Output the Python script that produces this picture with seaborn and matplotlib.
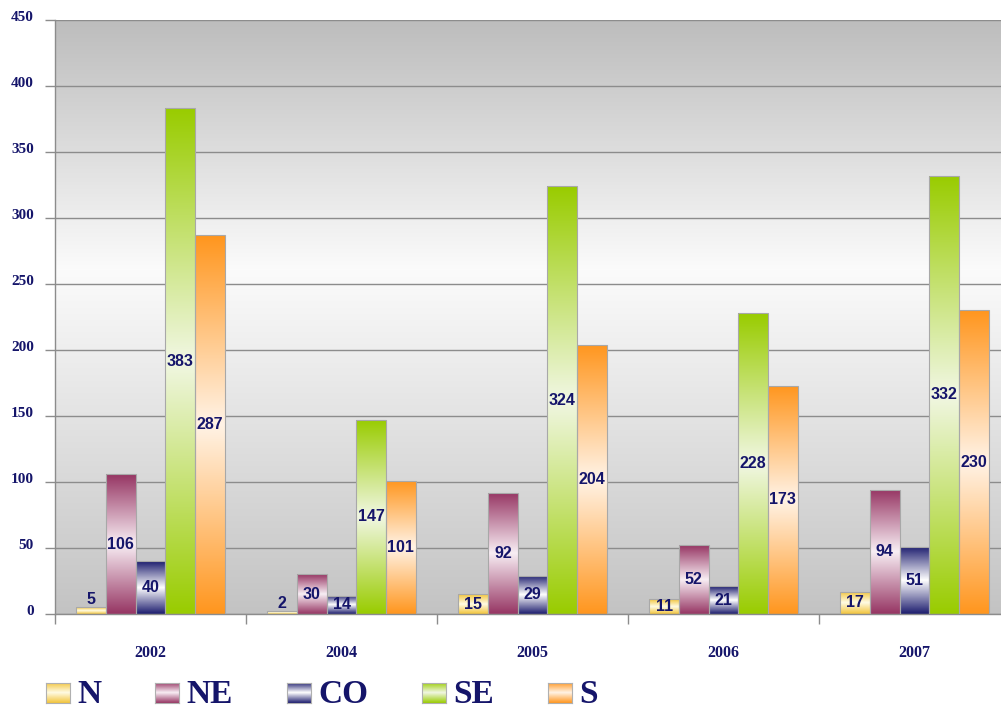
import numpy as np
import pandas as pd
import matplotlib
matplotlib.use("Agg")
import matplotlib.pyplot as plt
from matplotlib.colors import to_rgb
from matplotlib.transforms import ScaledTranslation
import seaborn as sns

# ---- data -------------------------------------------------------------
years = ["2002", "2004", "2005", "2006", "2007"]
regions = ["N", "NE", "CO", "SE", "S"]
n_vals = [5, 2, 15, 11, 17]
ne_vals = [106, 30, 92, 52, 94]
co_vals = [40, 14, 29, 21, 51]
se_vals = [383, 147, 324, 228, 332]
s_vals = [287, 101, 204, 173, 230]
y_ticks = [0, 50, 100, 150, 200, 250, 300, 350, 400, 450]

series = {"N": n_vals, "NE": ne_vals, "CO": co_vals, "SE": se_vals, "S": s_vals}
df = pd.DataFrame(
    [(y, r, series[r][i]) for r in regions for i, y in enumerate(years)],
    columns=["year", "region", "value"],
)

# gradient colours per region: (outer, centre)
grad_cols = {
    "N": ("#f2c43a", "#fffbe4"),
    "NE": ("#963563", "#f8eef4"),
    "CO": ("#1c1c6e", "#ffffff"),
    "SE": ("#99cc00", "#f1f7e3"),
    "S": ("#ff961e", "#fff3e6"),
}
navy = "#15156a"
axis_gray = "#8c8c8c"


def vgrad(outer, centre, n=256, mid=0.5):
    """Column gradient: outer -> centre -> outer (top to bottom)."""
    o = np.array(to_rgb(outer))
    c = np.array(to_rgb(centre))
    t = np.linspace(0, 1, n)
    w = np.where(t < mid, t / mid, (1 - t) / (1 - mid))
    arr = o[None, :] * (1 - w[:, None]) + c[None, :] * w[:, None]
    return arr[:, None, :]


sns.set_style("white")
plt.rcParams["font.family"] = ["Liberation Serif", "DejaVu Serif"]

fig = plt.figure(figsize=(10.01, 7.10), dpi=100)
W, H = 1001, 710
ax = fig.add_axes([55 / W, (H - 614) / H, 955 / W, 594 / H])

# background gradient of the plot area
bg_stops = np.array([0.0, 0.42, 1.0])
bg_vals = np.array([0.74, 0.985, 0.765])
tt = np.linspace(0, 1, 256)
g = np.interp(tt, bg_stops, bg_vals)
bg = np.repeat(g[:, None, None], 3, axis=2)
ax.imshow(bg, extent=[0, 1, 0, 1], transform=ax.transAxes, aspect="auto",
          zorder=-2, origin="upper")

sns.barplot(
    data=df, x="year", y="value", hue="region", order=years, hue_order=regions,
    palette=[grad_cols[r][0] for r in regions], width=0.775, errorbar=None,
    legend=False, ax=ax, edgecolor="#a8a8a8", linewidth=0.8,
)

# gradient fills and value labels
for r, cont in zip(regions, ax.containers):
    gimg = vgrad(*grad_cols[r])
    for bar, v in zip(cont.patches, series[r]):
        x0, w, h = bar.get_x(), bar.get_width(), bar.get_height()
        im = ax.imshow(gimg, extent=[x0, x0 + w, 0, h], aspect="auto",
                       origin="upper", zorder=2)
        im.set_clip_path(bar)
        bar.set_facecolor("none")
        bar.set_zorder(3)
        ly = v / 2 if v >= 10 else v + 6
        ax.text(x0 + w / 2, ly, str(v), ha="center", va="center",
                fontsize=11.5, fontweight="bold", color=navy,
                family=["Liberation Sans", "DejaVu Sans"], zorder=4)

ax.set_xlim(-0.5, 4.5)
ax.set_ylim(0, 450)
ax.set_xlabel("")
ax.set_ylabel("")

ax.set_yticks(y_ticks)
ax.set_yticklabels([str(t) for t in y_ticks])
ax.yaxis.grid(True, color=axis_gray, linewidth=1.0, zorder=1)
ax.xaxis.grid(False)
ax.set_axisbelow(True)

ax.set_xticks(range(len(years)))
ax.set_xticklabels(years)
ax.set_xticks(np.arange(-0.5, len(years), 1.0), minor=True)
ax.tick_params(axis="x", which="major", length=0, pad=22, labelsize=11.5,
               labelcolor=navy)
ax.tick_params(axis="x", which="minor", length=7.2, width=1, color=axis_gray,
               direction="out", bottom=True)
ax.tick_params(axis="y", which="major", length=7.2, width=1, color=axis_gray,
               direction="out", left=True, pad=8, labelsize=11, labelcolor=navy)
for lab in ax.get_xticklabels() + ax.get_yticklabels():
    lab.set_fontweight("bold")
shift = ScaledTranslation(0, 4 / 100, fig.dpi_scale_trans)
for lab in ax.get_yticklabels():
    lab.set_transform(lab.get_transform() + shift)

for side in ["top", "right"]:
    ax.spines[side].set_visible(False)
for side in ["left", "bottom"]:
    ax.spines[side].set_color(axis_gray)
    ax.spines[side].set_linewidth(1.0)

# legend with gradient swatches
leg_x = [46, 155, 287, 422, 548]
for r, lx in zip(regions, leg_x):
    sw = fig.add_axes([lx / W, (H - 703) / H, 24 / W, 20 / H])
    sw.imshow(vgrad(*grad_cols[r]), aspect="auto", extent=[0, 1, 0, 1],
              origin="upper")
    sw.set_xticks([])
    sw.set_yticks([])
    for s in sw.spines.values():
        s.set_color("#b0b0b0")
        s.set_linewidth(0.8)
    fig.text((lx + 31) / W, (H - 703) / H, r, ha="left", va="baseline",
             fontsize=24, fontweight="bold", color=navy)

fig.savefig("out.png", dpi=100, facecolor="white")
